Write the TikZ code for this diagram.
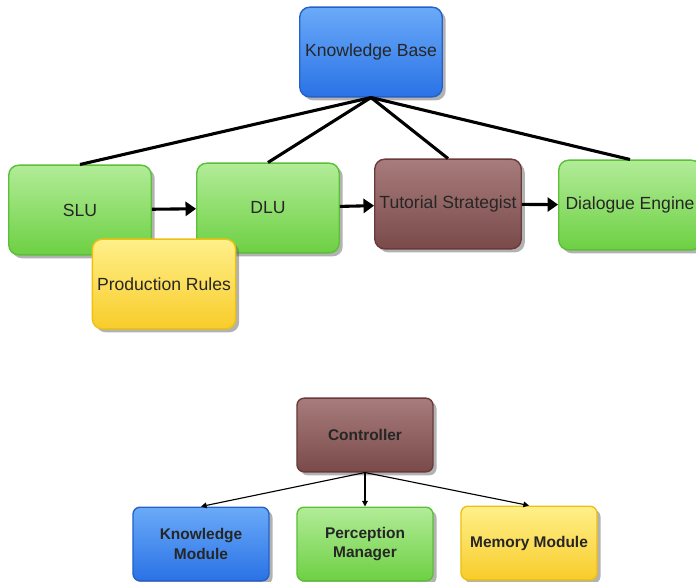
\documentclass[tikz,border=0pt]{standalone}
\usepackage{fontspec}
\setmainfont{Liberation Sans}
\usetikzlibrary{arrows.meta,shadows}

\definecolor{grnTop}{HTML}{B2EC98}
\definecolor{grnBot}{HTML}{6DD043}
\definecolor{grnLine}{HTML}{5CBF38}
\definecolor{bluTop}{HTML}{6AAAF8}
\definecolor{bluBot}{HTML}{2A72E6}
\definecolor{bluLine}{HTML}{2462C8}
\definecolor{brnTop}{HTML}{A87C7C}
\definecolor{brnBot}{HTML}{7A4A4A}
\definecolor{brnLine}{HTML}{6A3A3A}
\definecolor{ylwTop}{HTML}{FFF08A}
\definecolor{ylwBot}{HTML}{F8CC2A}
\definecolor{ylwLine}{HTML}{EEC010}

\begin{document}
\begin{tikzpicture}[
	x=0.025cm, y=-0.025cm,
	box/.style={
		rectangle,
		rounded corners=7pt,
		line width=1pt,
		minimum width=3.56cm,
		minimum height=2.24cm,
		align=center,
		text=black!85,
		font=\fontsize{12.5}{14}\selectfont,
		drop shadow={shadow xshift=2.5pt, shadow yshift=-2.5pt, fill=black!60, opacity=0.5}
	},
	smallbox/.style={
		box,
		rounded corners=5pt,
		minimum width=3.4cm,
		minimum height=1.84cm,
		font=\fontsize{11}{14}\selectfont\bfseries
	},
	greenbox/.style={draw=grnLine, top color=grnTop, bottom color=grnBot},
	bluebox/.style={draw=bluLine, top color=bluTop, bottom color=bluBot},
	brownbox/.style={draw=brnLine, top color=brnTop, bottom color=brnBot},
	yellowbox/.style={draw=ylwLine, top color=ylwTop, bottom color=ylwBot},
	link/.style={line width=2.2pt},
	flow/.style={line width=2.2pt, -{Triangle[length=7.5pt, width=10pt]}},
	thinflow/.style={line width=0.8pt, -{Triangle[length=4pt, width=4pt]}}
	]

	\useasboundingbox (0,0) rectangle (696,581);

	\node[box, bluebox] (kb) at (371,52) {Knowledge Base};
	\node[box, greenbox] (slu) at (80,210) {SLU};
	\node[box, greenbox] (dlu) at (268,208) {DLU};
	\node[box, brownbox] (ts) at (448,204) {Tutorial Strategist};
	\node[box, greenbox] (de) at (630,205) {Dialogue Engine};
	\node[box, yellowbox] (pr) at (164,284) {Production Rules};

	\draw[link] (kb.south) -- (slu.north);
	\draw[link] (kb.south) -- (dlu.north);
	\draw[link] (kb.south) -- (ts.north);
	\draw[link] (kb.south) -- (de.north);

	\draw[flow] (slu) -- (dlu);
	\draw[flow] (dlu) -- (ts);
	\draw[flow] (ts) -- (de);

	\node[smallbox, brownbox] (ctrl) at (365,435) {Controller};
	\node[smallbox, bluebox] (km) at (201,544) {Knowledge\\Module};
	\node[smallbox, greenbox] (pm) at (365,544) {Perception\\Manager};
	\node[smallbox, yellowbox] (mm) at (529,543) {Memory Module};

	\draw[thinflow] (ctrl.south) -- (km.north);
	\draw[thinflow] (ctrl.south) -- (pm.north);
	\draw[thinflow] (ctrl.south) -- (mm.north);
\end{tikzpicture}
\end{document}
